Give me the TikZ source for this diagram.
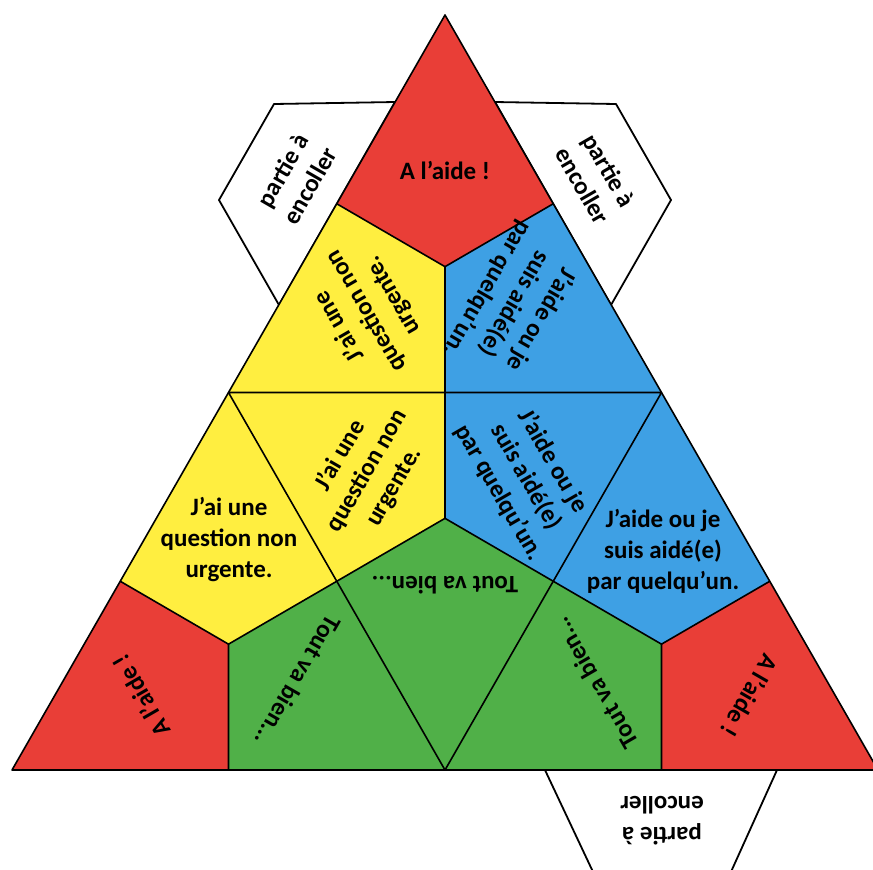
\documentclass[tikz,border=0pt]{standalone}
\usepackage{fontspec}
\setmainfont{Carlito}
\usetikzlibrary{calc}
\definecolor{myred}{RGB}{233,62,55}
\definecolor{myyellow}{RGB}{255,238,64}
\definecolor{myblue}{RGB}{62,160,228}
\definecolor{mygreen}{RGB}{80,176,72}
\newcommand{\kite}[5]{\fill[#1] (#2) -- (#3) -- (#4) -- (#5) -- cycle;}
\newcommand{\aide}{A l’aide !}
\newcommand{\question}{J’ai une\\question non\\urgente.}
\newcommand{\entraide}{J’aide ou je\\suis aidé(e)\\par quelqu’un.}
\newcommand{\bien}{Tout va bien...}
\newcommand{\colle}{partie à\\encoller}
\tikzset{
    common/.style={font=\bfseries\fontsize{12.5}{15.5}\selectfont, align=center, inner sep=0pt},
    flap/.style={draw, fill=white, line width=0.9pt, line join=round},
    fold/.style={draw, line width=0.8pt, line join=round}
}
\begin{document}
\begin{tikzpicture}[x=0.5pt, y=-0.5pt]
    \useasboundingbox (0,0) rectangle (873,869);
    \clip (0,0) rectangle (873,869);

    % corners and midpoints
    \coordinate (A) at (445,15);
    \coordinate (B) at (12,770);
    \coordinate (C) at (878,770);
    \coordinate (L) at ($(A)!.5!(B)$);
    \coordinate (R) at ($(A)!.5!(C)$);
    \coordinate (M) at ($(B)!.5!(C)$);
    \coordinate (mAL) at ($(A)!.5!(L)$);
    \coordinate (mAR) at ($(A)!.5!(R)$);
    \coordinate (mLR) at ($(L)!.5!(R)$);
    \coordinate (mLM) at ($(L)!.5!(M)$);
    \coordinate (mRM) at ($(R)!.5!(M)$);
    \coordinate (mLB) at ($(L)!.5!(B)$);
    \coordinate (mBM) at ($(B)!.5!(M)$);
    \coordinate (mRC) at ($(R)!.5!(C)$);
    \coordinate (mMC) at ($(M)!.5!(C)$);
    \coordinate (G1) at (barycentric cs:A=1,L=1,R=1);
    \coordinate (G0) at (barycentric cs:L=1,R=1,M=1);
    \coordinate (G2) at (barycentric cs:L=1,B=1,M=1);
    \coordinate (G3) at (barycentric cs:R=1,M=1,C=1);

    % flaps behind the faces
    \draw[flap] (395,102) -- (274,104) -- (219,200) -- (279,305) -- cycle;
    \draw[flap] (495,102) -- (616,104) -- (671,200) -- (611,305) -- cycle;
    \draw[flap] (545,770) -- (594,874) -- (730,874) -- (777,770) -- cycle;

    % top face
    \kite{myred}{A}{mAL}{G1}{mAR}
    \kite{myyellow}{L}{mLR}{G1}{mAL}
    \kite{myblue}{R}{mLR}{G1}{mAR}
    % centre face
    \kite{myyellow}{L}{mLR}{G0}{mLM}
    \kite{myblue}{R}{mLR}{G0}{mRM}
    \kite{mygreen}{M}{mLM}{G0}{mRM}
    % left face
    \kite{myyellow}{L}{mLM}{G2}{mLB}
    \kite{myred}{B}{mBM}{G2}{mLB}
    \kite{mygreen}{M}{mLM}{G2}{mBM}
    % right face
    \kite{myblue}{R}{mRM}{G3}{mRC}
    \kite{myred}{C}{mMC}{G3}{mRC}
    \kite{mygreen}{M}{mRM}{G3}{mMC}

    % folds and cuts
    \draw[fold] (A) -- (B) -- (C) -- cycle;
    \draw[fold] (L) -- (R) -- (M) -- cycle;
    \foreach \g/\p/\q/\r in {G1/mAL/mAR/mLR, G0/mLR/mLM/mRM, G2/mLB/mLM/mBM, G3/mRC/mRM/mMC}
        \draw[fold] (\p) -- (\g) -- (\q) (\g) -- (\r);

    % texts
    \node[common] (top-red) at (445,170) {\aide};
    \node[common, rotate=120] (top-yellow) at (366,311) {\question};
    \node[common, rotate=240] (top-blue) at (514,304) {\entraide};
    \node[common, rotate=60] (mid-yellow) at (367,471) {\question};
    \node[common, rotate=-60] (mid-blue) at (526,477) {\entraide};
    \node[common, rotate=180] (mid-green) at (445,585) {\bien};
    \node[common] (left-yellow) at (229,540) {\question};
    \node[common, rotate=120] (left-red) at (141,696) {\aide};
    \node[common, rotate=240] (left-green) at (298,681) {\bien};
    \node[common] (right-blue) at (663,551) {\entraide};
    \node[common, rotate=240] (right-red) at (750,696) {\aide};
    \node[common, rotate=120] (right-green) at (595,683) {\bien};
    \node[common, rotate=60] (flap-left) at (296,178) {\colle};
    \node[common, rotate=-60] (flap-right) at (596,178) {\colle};
    \node[common, rotate=180] (flap-bottom) at (662,821) {\colle};
\end{tikzpicture}
\end{document}
